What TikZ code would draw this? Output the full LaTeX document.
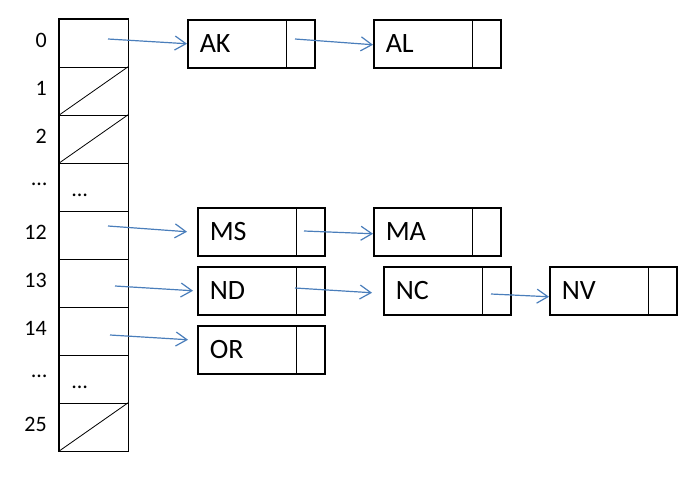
\documentclass[tikz,border=0pt]{standalone}
\usepackage{fontspec}
\setmainfont{Carlito}
\usetikzlibrary{arrows.meta}
\definecolor{ptrblue}{RGB}{74,126,187}

\begin{document}
\begin{tikzpicture}[x=1pt, y=-1pt,
   cell/.style = {draw, line width=1pt, minimum width=69pt, minimum height=48pt, inner sep=0pt},
   elem/.style = {draw, line width=1.5pt, anchor=north west, minimum height=48pt,
      text width=103pt, inner xsep=12pt, inner ysep=0pt, align=left,
      font=\fontsize{28}{30}\selectfont},
   idx/.style = {anchor=east, inner sep=0pt, font=\fontsize{22}{24}\selectfont},
   ptr/.style = {draw=ptrblue, line width=1.2pt, -{Straight Barb[length=11pt, width=14pt]}}]
   \useasboundingbox (0,0) rectangle (698,491);

   % table of buckets
   \foreach \i in {0,...,8}
     \node[cell] (c\i) at (93.5, {43+48*\i}) {};
   \draw[line width=1.5pt] (c0.north west) rectangle (c8.south east);
   \foreach \i in {1,2,8}
     \draw[line width=0.8pt] (c\i.south west) -- (c\i.north east);
   \foreach \i/\t in {0/0, 1/1, 2/2, 3/…, 4/12, 5/13, 6/14, 7/…, 8/25}
     \node[idx] (l\i) at (47, {40+48*\i}) {\t};
   \node[anchor=base west, inner sep=0pt, font=\fontsize{22}{24}\selectfont] (d3) at (72,196) {…};
   \node[anchor=base west, inner sep=0pt, font=\fontsize{22}{24}\selectfont] (d7) at (72,388) {…};

   % list elements
   \node[elem] (AK) at (187,19)  {AK};
   \node[elem] (AL) at (373,19)  {AL};
   \node[elem] (MS) at (197,207) {MS};
   \node[elem] (MA) at (373,207) {MA};
   \node[elem] (ND) at (197,266) {ND};
   \node[elem] (NC) at (383,266) {NC};
   \node[elem] (NV) at (549,266) {NV};
   \node[elem] (OR) at (197,325) {OR};
   \foreach \e in {AK,AL,MS,MA,ND,NC,NV,OR}
     \draw[line width=1.5pt] ([xshift=-29pt]\e.north east) -- ([xshift=-29pt]\e.south east);

   % pointers
   \coordinate (p0)  at (108,39);
   \coordinate (p12) at (108,226);
   \coordinate (p13) at (115,286);
   \coordinate (p14) at (110,335);
   \coordinate (pAK) at (295,39);
   \coordinate (pMS) at (304,231);
   \coordinate (pND) at (295,288);
   \coordinate (pNC) at (491,294);
   \draw[ptr] (p0)  -- (AK.west);
   \draw[ptr] (pAK) -- ([yshift=-1pt]AL.west);
   \draw[ptr] (p12) -- ([xshift=-10pt]MS.west);
   \draw[ptr] (pMS) -- ([yshift=-2pt]MA.west);
   \draw[ptr] (p13) -- ([xshift=-4pt]ND.west);
   \draw[ptr] (pND) -- ([xshift=-11pt, yshift=-2pt]NC.west);
   \draw[ptr] (p14) -- ([xshift=-9pt, yshift=10pt]OR.west);
   \draw[ptr] (pNC) -- ([yshift=-6pt]NV.west);
\end{tikzpicture}
\end{document}
